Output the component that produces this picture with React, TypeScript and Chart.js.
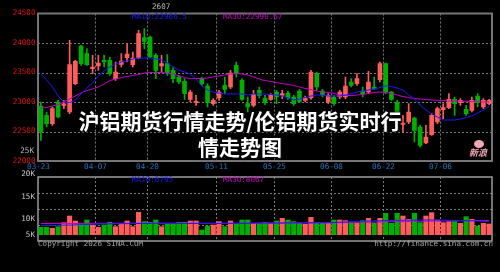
import React, { useEffect, useRef } from "react";
import { Chart, registerables } from "chart.js";

Chart.register(...registerables);

// ---- data ----
const OPEN = [22932, 22774, 22633, 23000, 22943, 22830, 23311, 23949, 23819, 23565,
  23610, 23706, 23706, 23395, 23638, 23751, 23633, 23746, 24090, 24102,
  23791, 23610, 23650, 23537, 23424, 23350, 23045, 22989, 23395, 23271,
  22972, 23068, 23282, 23254, 23621, 23367, 22972, 22943, 23198, 23068,
  23045, 23169, 23113, 23152, 23085, 23186, 23028, 23068, 23480, 23186,
  23000, 23085, 23085, 23085, 23339, 23311, 23186, 23169, 23254, 23378,
  23650, 23169, 23000, 22621, 22661, 22729, 22576, 22305, 22446, 22661,
  22870, 22904, 23045, 22989, 22876, 22859, 23101, 22915, 22972];
const CLOSE = [22503, 22633, 22887, 22746, 22971, 23633, 23689, 23650, 23633, 23593,
  23661, 23678, 23480, 23508, 23695, 23813, 23746, 24158, 24028, 23763,
  23537, 23650, 23491, 23395, 23339, 23141, 23169, 23011, 23311, 22989,
  23028, 23169, 23214, 23491, 23480, 23045, 22915, 23124, 23113, 22989,
  23113, 23085, 23141, 23068, 22972, 23011, 23068, 23508, 23254, 23130,
  23113, 22972, 23169, 23271, 23282, 23395, 23141, 23339, 23226, 23650,
  23169, 23045, 22830, 22644, 22830, 22520, 22265, 22407, 22774, 22887,
  22904, 23045, 22972, 23028, 22802, 23028, 22989, 23028, 23028];
const HIGH = [23000, 22830, 22915, 23028, 23028, 24045, 23706, 23960, 23904, 23791,
  23791, 23791, 23763, 23678, 23819, 23989, 23847, 24215, 24243, 24119,
  23819, 23791, 23802, 23593, 23452, 23395, 23200, 23113, 23424, 23311,
  23056, 23198, 23424, 23537, 23678, 23395, 23085, 23198, 23254, 23113,
  23141, 23198, 23198, 23180, 23113, 23214, 23101, 23537, 23508, 23214,
  23141, 23113, 23198, 23424, 23395, 23480, 23254, 23520, 23424, 23678,
  23661, 23180, 23028, 22774, 22972, 22745, 22604, 22604, 22802, 22915,
  22972, 23141, 23085, 23056, 22943, 23085, 23141, 23056, 23045];
const LOW = [22350, 22576, 22604, 22729, 22887, 22802, 23294, 23621, 23621, 23480,
  23537, 23593, 23452, 23367, 23593, 23678, 23593, 23734, 23904, 23751,
  23395, 23508, 23452, 23328, 23311, 23045, 23000, 22943, 23282, 22915,
  22943, 23028, 23141, 23226, 23424, 23028, 22830, 22915, 23068, 22955,
  23028, 22972, 23056, 23045, 22943, 22989, 23000, 23045, 23198, 23085,
  22972, 22943, 23056, 23056, 23254, 23282, 23085, 23141, 23214, 23339,
  23141, 23028, 22780, 22491, 22633, 22322, 22237, 22293, 22435, 22633,
  22717, 22887, 22774, 22943, 22774, 22830, 22915, 22887, 22955];
const MA10 = [23475, 23373, 23254, 23100, 23000, 22990, 23030, 23140, 23237, 23322,
  23441, 23525, 23593, 23644, 23678, 23695, 23729, 23746, 23746, 23746,
  23729, 23712, 23661, 23593, 23542, 23508, 23475, 23390, 23271, 23203,
  23169, 23152, 23136, 23136, 23136, 23136, 23119, 23136, 23136, 23136,
  23127, 23119, 23102, 23068, 23034, 23051, 23076, 23102, 23119, 23110,
  23102, 23102, 23102, 23119, 23144, 23169, 23186, 23203, 23220, 23246,
  23271, 23263, 23237, 23203, 23119, 23051, 22949, 22864, 22797, 22746,
  22695, 22695, 22695, 22712, 22737, 22763, 22814, 22864, 22932];
const MA30 = [22898, 22907, 22932, 22958, 23000, 23051, 23102, 23153, 23195, 23220,
  23254, 23305, 23364, 23390, 23415, 23432, 23449, 23466, 23491, 23500,
  23500, 23500, 23491, 23475, 23441, 23415, 23398, 23398, 23398, 23407,
  23424, 23441, 23458, 23475, 23483, 23475, 23458, 23424, 23390, 23364,
  23347, 23330, 23313, 23297, 23280, 23254, 23229, 23212, 23186, 23169,
  23161, 23144, 23119, 23110, 23110, 23119, 23127, 23144, 23161, 23169,
  23161, 23144, 23119, 23093, 23076, 23059, 23051, 23042, 23034, 23029,
  23025, 23017, 23017, 23014, 23012, 23008, 23005, 23000, 23000];
const VOLUME = [7400, 7400, 7100, 7600, 8850, 10940, 9375, 8440, 9690, 8125,
  7400, 8125, 8960, 7600, 8650, 9375, 7600, 12090, 9170, 8960,
  9690, 7600, 8650, 8650, 8960, 8960, 9375, 9375, 6560, 7810,
  8125, 9170, 7600, 9375, 8650, 9690, 9690, 8650, 8650, 8960,
  8650, 9375, 10200, 9690, 9170, 8650, 8330, 10520, 8960, 8650,
  8650, 9690, 9690, 9480, 8650, 8650, 9480, 10210, 8650, 10210,
  11770, 8650, 11770, 10940, 9900, 11770, 8850, 10940, 11980, 9690,
  8850, 9170, 9170, 8650, 10730, 9900, 7810, 8650, 8440];
const VOL_MA10_AT = [0, 5, 10, 20, 30, 40, 50, 56, 62, 68, 74, 78];
const VOL_MA10 = [7970, 8100, 8450, 8650, 8600, 8750, 8850, 9300, 9600, 9700, 9500, 9200];
const VOL_MA30_AT = [0, 10, 20, 30, 40, 50, 60, 70, 78];
const VOL_MA30 = [8600, 8650, 8700, 8650, 8700, 8800, 9100, 9400, 9500];

const PRICE_TICKS = [24500, 24000, 23500, 23000, 22500, 22000];
const DATE_TICK_AT = [0, 10, 19, 31, 41, 51, 60, 70];
const DATE_TICK_LABELS = ["03-23", "04-07", "04-20", "05-11", "05-25", "06-08", "06-22", "07-06"];
const VOL_TICK_LABELS = ["20K", "15K", "10K", "5K"];
const VOL_TICK_Y = [174, 197, 219, 235];

const PRICE_MA_TEXT = ["MA10:22966.5", "MA30:22990.67"];
const VOL_MA_TEXT = ["MA10:6795", "MA30:8067"];
const TITLE_LINES = ["沪铝期货行情走势/伦铝期货实时行", "情走势图"];

// ---- styles ----
const RED = "#ff5c5c";
const GREEN = "#00b000";
const BLUE = "#1a1aff";
const MAGENTA = "#c800c8";
const FONT = '7.6px "DejaVu Sans Mono", monospace';
const VOL_TOP = 177;
const VOL_BOTTOM = 241;

const labels = OPEN.map((_, i) => String(i));
const candleColors = OPEN.map((o, i) => (CLOSE[i] >= o ? RED : GREEN));

function dashLine(ctx: CanvasRenderingContext2D, x1: number, y1: number, x2: number, y2: number) {
  ctx.beginPath();
  ctx.moveTo(x1, y1);
  ctx.lineTo(x2, y2);
  ctx.stroke();
}

function gridXs(chart: any): number[] {
  const x = chart.scales.x;
  const a = chart.chartArea;
  const step = (a.right - a.left) / OPEN.length;
  return DATE_TICK_AT.map((i) => Math.round(x.getPixelForValue(i) - step / 2) + 0.5);
}

const pricePlugin = {
  id: "pricePanel",
  beforeDatasetsDraw(chart: any) {
    const { ctx, chartArea: a, scales } = chart;
    const y = scales.y;
    ctx.save();
    ctx.strokeStyle = "#7a7a7a";
    ctx.lineWidth = 1;
    ctx.setLineDash([2, 2]);
    PRICE_TICKS.forEach((v) => {
      if (v <= y.min || v >= y.max) return;
      const py = Math.round(y.getPixelForValue(v)) + 0.5;
      dashLine(ctx, a.left, py, a.right, py);
    });
    gridXs(chart).forEach((px, k) => {
      if (k === 0) return;
      dashLine(ctx, px, a.top, px, a.bottom);
    });
    ctx.setLineDash([]);
    ctx.strokeStyle = "#757575";
    ctx.lineWidth = 2;
    ctx.strokeRect(a.left, a.top, a.right - a.left, a.bottom - a.top);
    ctx.restore();
  },
  afterDraw(chart: any) {
    const { ctx, chartArea: a, scales } = chart;
    const y = scales.y;
    ctx.save();
    ctx.font = FONT;
    ctx.textBaseline = "middle";
    ctx.textAlign = "right";
    ctx.fillStyle = "#e01414";
    PRICE_TICKS.forEach((v) => ctx.fillText(String(v), 35.5, y.getPixelForValue(v)));
    ctx.fillStyle = "#bdbdbd";
    ctx.fillText("25K", 34, 151);
    ctx.textAlign = "center";
    ctx.fillStyle = "#2a74b8";
    gridXs(chart).forEach((px, k) => ctx.fillText(DATE_TICK_LABELS[k], px, a.bottom + 6.5));
    ctx.textAlign = "left";
    ctx.fillStyle = "#b8b8b8";
    ctx.fillText("2607", 152, 7);
    ctx.fillStyle = BLUE;
    ctx.fillText(PRICE_MA_TEXT[0], 132, a.top + 4);
    ctx.fillStyle = MAGENTA;
    ctx.fillText(PRICE_MA_TEXT[1], 223, a.top + 4);
    // sina logo
    ctx.fillStyle = "#f4a6b4";
    ctx.beginPath();
    ctx.ellipse(479, 144, 5, 4, 0, 0, Math.PI * 2);
    ctx.fill();
    ctx.font = 'italic bold 9px "Noto Sans CJK SC", sans-serif';
    ctx.fillText("新浪", 469, 153);
    ctx.restore();
  },
};

const volPlugin = {
  id: "volPanel",
  beforeDatasetsDraw(chart: any) {
    const { ctx, chartArea: a } = chart;
    ctx.save();
    ctx.strokeStyle = "#7a7a7a";
    ctx.lineWidth = 1;
    ctx.setLineDash([2, 2]);
    const q = (VOL_BOTTOM - VOL_TOP) / 4;
    [1, 2, 3].forEach((k) => {
      const py = Math.round(VOL_TOP + q * k) + 0.5;
      dashLine(ctx, a.left, py, a.right, py);
    });
    gridXs(chart).forEach((px, k) => {
      if (k === 0) return;
      dashLine(ctx, px, VOL_TOP, px, VOL_BOTTOM);
    });
    ctx.setLineDash([]);
    ctx.strokeStyle = "#9a9a9a";
    ctx.lineWidth = 1.5;
    ctx.strokeRect(a.left, VOL_TOP, a.right - a.left, VOL_BOTTOM - VOL_TOP);
    ctx.restore();
  },
  afterDraw(chart: any) {
    const { ctx, chartArea: a } = chart;
    ctx.save();
    ctx.font = FONT;
    ctx.textBaseline = "middle";
    ctx.textAlign = "right";
    ctx.fillStyle = "#c8c8c8";
    VOL_TICK_LABELS.forEach((t, k) => ctx.fillText(t, 35, VOL_TICK_Y[k]));
    ctx.textAlign = "left";
    ctx.fillStyle = BLUE;
    ctx.fillText(VOL_MA_TEXT[0], 132, VOL_TOP + 3.5);
    ctx.fillStyle = MAGENTA;
    ctx.fillText(VOL_MA_TEXT[1], 223, VOL_TOP + 3.5);
    ctx.fillStyle = "#a0a0a0";
    ctx.fillText("Copyright 2026 SINA.COM", a.left, VOL_BOTTOM + 3.5);
    ctx.textAlign = "right";
    ctx.fillText("http://finance.sina.com.cn", a.right + 1, VOL_BOTTOM + 3.5);
    ctx.restore();
  },
};

export default function App() {
  const priceRef = useRef<HTMLCanvasElement | null>(null);
  const volRef = useRef<HTMLCanvasElement | null>(null);

  useEffect(() => {
    const price = new Chart(priceRef.current as HTMLCanvasElement, {
      type: "bar",
      data: {
        labels,
        datasets: [
          { type: "line", data: MA10, borderColor: BLUE, borderWidth: 1, pointRadius: 0, tension: 0, order: 0 } as any,
          { type: "line", data: MA30, borderColor: MAGENTA, borderWidth: 1, pointRadius: 0, tension: 0, order: 0 } as any,
          {
            data: OPEN.map((o, i) => [Math.min(o, CLOSE[i]), Math.max(o, CLOSE[i])]),
            backgroundColor: candleColors,
            barThickness: 4,
            grouped: false,
            order: 1,
          },
          {
            data: LOW.map((l, i) => [l, HIGH[i]]),
            backgroundColor: candleColors,
            barThickness: 1,
            grouped: false,
            order: 2,
          },
        ],
      },
      options: {
        responsive: false,
        animation: false,
        events: [],
        layout: { padding: { left: 38, right: 8, top: 13.5, bottom: 111 } },
        scales: {
          x: { display: false, offset: true },
          y: { display: false, min: 22000, max: 24500 },
        },
        plugins: { legend: { display: false }, tooltip: { enabled: false } },
      },
      plugins: [pricePlugin],
    });

    const vol = new Chart(volRef.current as HTMLCanvasElement, {
      type: "bar",
      data: {
        labels,
        datasets: [
          {
            type: "line",
            data: VOL_MA10_AT.map((i, k) => ({ x: String(i), y: VOL_MA10[k] })),
            borderColor: BLUE, borderWidth: 1, pointRadius: 0, tension: 0, order: 0,
          } as any,
          {
            type: "line",
            data: VOL_MA30_AT.map((i, k) => ({ x: String(i), y: VOL_MA30[k] })),
            borderColor: MAGENTA, borderWidth: 1, pointRadius: 0, tension: 0, order: 0,
          } as any,
          {
            data: VOLUME,
            backgroundColor: candleColors,
            barThickness: 4.5,
            grouped: false,
            order: 1,
          },
        ],
      },
      options: {
        responsive: false,
        animation: false,
        events: [],
        layout: { padding: { left: 38, right: 8, top: VOL_TOP, bottom: 37 } },
        scales: {
          x: { display: false, offset: true },
          y: { display: false, min: 5000, max: 23125 },
        },
        plugins: { legend: { display: false }, tooltip: { enabled: false } },
      },
      plugins: [volPlugin],
    });

    return () => {
      price.destroy();
      vol.destroy();
    };
  }, []);

  const cv: React.CSSProperties = { position: "absolute", left: 0, top: 0, width: 500, height: 272 };

  return (
    <div style={{ position: "fixed", left: 0, top: 0, width: 500, height: 272, background: "#000", overflow: "hidden" }}>
      <canvas ref={priceRef} width={500} height={272} style={cv} />
      <canvas ref={volRef} width={500} height={272} style={cv} />
      <div
        style={{
          position: "absolute",
          left: 0,
          top: 107,
          width: 480,
          textAlign: "center",
          color: "#fff",
          fontFamily: '"Noto Sans CJK SC", sans-serif',
          fontWeight: 700,
          fontSize: 21,
          lineHeight: "26px",
          whiteSpace: "nowrap",
          textShadow: "1px 1px 2px #000, 0 0 3px #000, 1px 1px 0 #333",
          pointerEvents: "none",
        }}
      >
        {TITLE_LINES[0]}
        <br />
        {TITLE_LINES[1]}
      </div>
    </div>
  );
}
